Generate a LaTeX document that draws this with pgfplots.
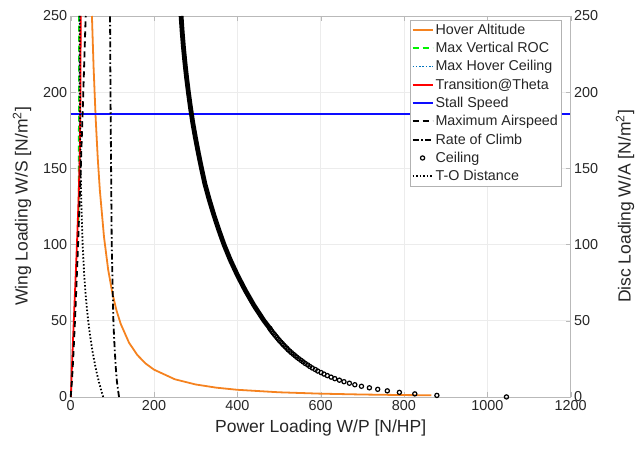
\documentclass[border=0pt]{standalone}
\usepackage{fontspec}
\setmainfont{Liberation Sans}
\usepackage{pgfplots}
\pgfplotsset{compat=1.18}
\definecolor{hov}{rgb}{0.96,0.51,0.12}
\definecolor{roc}{rgb}{0,0.95,0}
\definecolor{mhc}{rgb}{0,0.447,0.741}
\definecolor{stall}{rgb}{0.05,0.05,1}
\definecolor{txt}{rgb}{0.15,0.15,0.15}
\pgfplotsset{
  common/.style={
    scale only axis, width=500bp, height=381bp,
    xmin=0, xmax=1200, ymin=0, ymax=250,
    ytick={0,50,...,250},
    tick align=inside, major tick length=5bp,
    axis line style={gray!55}, tick style={gray!55},
    ticklabel style={font=\fontsize{14.4bp}{16bp}\selectfont, text=txt},
    label style={font=\fontsize{17.5bp}{20bp}\selectfont, text=txt},
    /pgf/number format/assume math mode=true,
    /pgf/number format/1000 sep={},
  },
  legend image code/.code={\draw[mark repeat=2,mark phase=2,#1] plot coordinates {(0bp,0bp) (10bp,0bp) (20bp,0bp)};},
}
\begin{document}
\begin{tikzpicture}
\begin{axis}[common, name=main,
  xtick={0,200,...,1200}, xtick pos=both, ytick pos=left,
  grid=major, major grid style={gray!15, line width=0.6bp},
  xlabel={Power Loading W/P [N/HP]},
  ylabel={Wing Loading W/S [N/m\textsuperscript{2}]},
  xlabel style={at={(axis description cs:0.5,-0.082)}, anchor=center},
  ylabel style={at={(axis description cs:-0.0974,0.5)}, anchor=center, rotate=0},
  clip=false,
  legend style={at={(0.981,0.9895)}, anchor=north east, draw=gray!60, fill=white,
    font=\fontsize{14.3bp}{16bp}\selectfont, text=txt, cells={anchor=west},
    inner xsep=1bp, inner ysep=1.5bp, row sep=2.5bp},
]
% Hover Altitude
\addplot[color=hov, line width=1.8bp] coordinates {
(51,250) (55,216.1) (60,182.7) (65,156.5) (70,135.7) (80,104.9) (90,83.5) (100,68.2)
(110,56.7) (120,48.0) (140,35.6) (160,27.5) (180,21.9) (200,17.9) (250,11.6) (300,8.18)
(350,6.07) (400,4.69) (500,3.05) (600,2.15) (700,1.59) (800,1.23) (866,1.06)};
\addlegendentry{Hover Altitude}
% Max Vertical ROC
\addplot[color=roc, dash pattern=on 6bp off 4bp, line width=1.6bp] coordinates {(19,115) (19.5,180) (20,250)};
\addlegendentry{Max Vertical ROC}
% Max Hover Ceiling
\addplot[color=mhc, dash pattern=on 1.5bp off 1.8bp, line width=1.5bp] coordinates {(21,140) (21.5,200) (22,250)};
\addlegendentry{Max Hover Ceiling}
% Transition@Theta
\addplot[color=red, line width=1.8bp] coordinates {
(0.5,0) (3,20) (6,40) (9,60) (12.5,83) (15,100) (19,130) (22,160) (23.5,200) (24,250)};
\addlegendentry{Transition@Theta}
% Stall speed
\addplot[color=stall, line width=2bp] coordinates {(0,186) (1200,186)};
\addlegendentry{Stall Speed}
% Maximum Airspeed
\addplot[color=black, dash pattern=on 6bp off 4bp, line width=1.8bp] coordinates {
(0,0) (2.9,10) (6.0,25) (10.3,50) (14.1,75) (17.7,100) (24.2,150) (30.3,200) (36,250)};
\addlegendentry{Maximum Airspeed}
% Rate of Climb
\addplot[color=black, dash pattern=on 6bp off 2.5bp on 1.5bp off 2.5bp, line width=1.8bp] coordinates {
(116,0) (111,10) (108,20) (106,30) (104,40) (102.5,50) (100.5,75) (98.5,100) (97,150) (95.5,200) (94.5,250)};
\addlegendentry{Rate of Climb}
% Ceiling (dense part drawn as a thick band)
\addplot[color=black, line width=4.8bp, forget plot] coordinates {
(480.5,44) (478,45) (464,50) (452,55) (440,60) (419,70) (400,80) (383,90) (368,100) (355,110)
(343,120) (332,130) (322,140) (314,150) (306.5,160) (299.5,170) (293,180) (287.5,190)
(282.5,200) (278,210) (274,220) (270.5,230) (267.5,240) (265,250)};
\addplot[color=black, only marks, mark=o, mark size=2.1bp, mark options={line width=1.2bp}] coordinates {
(1046,0) (879,1) (826,2) (789,3) (760,4) (737,5) (717,6) (698,7) (682,8) (669,9) (656,10)
(645,11) (634,12) (625,13) (616,14) (608,15) (601,16) (593,17) (587,18) (580,19) (574,20)
(569,21) (563,22) (558,23) (553,24) (548,25) (543,26) (539,27) (534.5,28) (530,29) (526,30)
(522,31) (518.5,32) (515,33) (511,34) (508,35) (504.5,36) (501,37) (498,38) (495,39) (492,40)
(489,41) (486,42) (483,43) (480.5,44) (478,45)};
\addlegendentry{Ceiling}
% T-O Distance
\addplot[color=black, dash pattern=on 1.5bp off 2bp, line width=1.8bp] coordinates {
(78,0) (72.6,5) (67.7,10) (63.2,15) (59.2,20) (52.3,30) (46.6,40) (42,50) (38.2,60) (35.1,70)
(32.5,80) (28.7,100) (25.7,125) (23.8,150) (22,200) (21.5,250)};
\addlegendentry{T-O Distance}
\end{axis}
\begin{axis}[common,
  axis x line=none, axis y line*=right,
  ylabel={Disc Loading W/A [N/m\textsuperscript{2}]},
  ylabel style={at={(axis description cs:1.109,0.5)}, anchor=center, rotate=0},
]
\end{axis}
\pgfresetboundingbox
\path[use as bounding box] ([shift={(-70.7bp,-52bp)}]main.south west) rectangle ([shift={(68.4bp,16bp)}]main.north east);
\end{tikzpicture}
\end{document}
